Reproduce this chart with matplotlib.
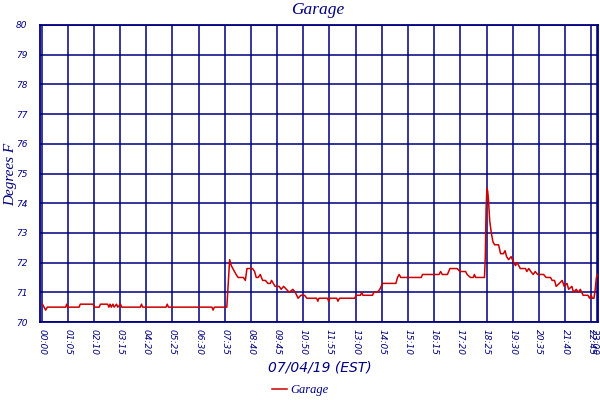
import matplotlib
matplotlib.use("Agg")
import matplotlib.pyplot as plt
import matplotlib.transforms as mtransforms

# minutes since midnight -> degrees F
minutes = [2, 6, 10, 14, 60, 62, 65, 93, 96, 128, 131, 143, 146, 164, 167, 170, 173,
           177, 180, 186, 189, 196, 199, 245, 248, 251, 309, 312, 315, 423, 426, 429,
           460, 463, 467, 471, 475, 483, 488, 501, 506, 510, 524, 529, 533, 538, 543,
           549, 556, 562, 568, 571, 580, 590, 595, 601, 608, 615, 624, 630, 637, 644,
           653, 659, 683, 686, 689, 710, 713, 716, 733, 736, 740, 778, 781, 792, 795,
           798, 822, 825, 834, 840, 847, 880, 884, 888, 892, 943, 946, 987, 991, 995,
           1008, 1014, 1032, 1039, 1053, 1057, 1065, 1072, 1075, 1078, 1100, 1102, 1104,
           1106, 1108, 1110, 1113, 1117, 1121, 1125, 1135, 1140, 1147, 1151, 1155, 1160,
           1166, 1173, 1177, 1181, 1189, 1202, 1205, 1210, 1215, 1221, 1226, 1232, 1247,
           1253, 1264, 1268, 1274, 1278, 1286, 1293, 1298, 1305, 1309, 1317, 1321, 1328,
           1333, 1338, 1345, 1357, 1361, 1365, 1368, 1372, 1375, 1378, 1381]
temps = [70.6, 70.5, 70.4, 70.5, 70.5, 70.6, 70.5, 70.5, 70.6, 70.6, 70.5, 70.5, 70.6,
         70.6, 70.5, 70.6, 70.5, 70.6, 70.5, 70.6, 70.5, 70.6, 70.5, 70.5, 70.6, 70.5,
         70.5, 70.6, 70.5, 70.5, 70.4, 70.5, 70.5, 71.2, 72.1, 71.9, 71.8, 71.6, 71.5,
         71.5, 71.4, 71.8, 71.8, 71.7, 71.5, 71.5, 71.6, 71.4, 71.4, 71.3, 71.3, 71.4,
         71.2, 71.2, 71.1, 71.2, 71.1, 71.0, 71.1, 71.0, 70.8, 70.9, 70.9, 70.8, 70.8,
         70.7, 70.8, 70.8, 70.7, 70.8, 70.8, 70.7, 70.8, 70.8, 70.9, 70.9, 71.0, 70.9,
         70.9, 71.0, 71.0, 71.1, 71.3, 71.3, 71.5, 71.6, 71.5, 71.5, 71.6, 71.6, 71.7,
         71.6, 71.6, 71.8, 71.8, 71.7, 71.7, 71.6, 71.5, 71.5, 71.6, 71.5, 71.5, 72.2,
         73.8, 74.5, 74.4, 74.1, 73.4, 73.0, 72.7, 72.6, 72.6, 72.3, 72.3, 72.4, 72.2,
         72.1, 72.2, 72.0, 71.9, 72.0, 71.8, 71.8, 71.7, 71.8, 71.7, 71.6, 71.7, 71.6,
         71.6, 71.5, 71.5, 71.4, 71.4, 71.2, 71.3, 71.4, 71.2, 71.3, 71.1, 71.2, 71.0,
         71.1, 71.0, 71.1, 70.9, 70.9, 70.8, 70.9, 70.8, 70.8, 71.1, 71.5, 71.6]

tick_minutes = list(range(0, 1366, 65)) + [1380]
tick_labels = [f"{m // 60:02d}:{m % 60:02d}" for m in tick_minutes]
y_ticks = list(range(70, 81))

NAVY = "#000080"
RED = "#cc0000"
SERIF = "Liberation Serif"

fig = plt.figure(figsize=(6, 4), dpi=100)
ax = fig.add_axes([0.0667, 0.195, 0.93, 0.7425])

line, = ax.plot(minutes, temps, color=RED, lw=1.1, label="Garage", zorder=3)

ax.set_xlim(-4, 1382)
ax.set_ylim(70, 80)
ax.set_xticks(tick_minutes)
ax.set_xticklabels(tick_labels, rotation=-90, fontsize=6.5, style="italic", color=NAVY)
ax.set_yticks(y_ticks)
ax.set_yticklabels([str(v) for v in y_ticks], fontsize=6.5, style="italic", color=NAVY)
ax.tick_params(length=0)
ax.tick_params(axis="y", pad=9)
ax.tick_params(axis="x", pad=5)
ax.grid(True, color=NAVY, lw=1.1, zorder=1)
ax.set_axisbelow(True)
for sp in ax.spines.values():
    sp.set_color(NAVY)
    sp.set_linewidth(1.3)

# last label (23:00) sits against the right edge; nudge it in a little
last = ax.get_xticklabels()[-1]
last.set_transform(last.get_transform() + mtransforms.ScaledTranslation(-2 / 72, 0, fig.dpi_scale_trans))

fig.text(0.53, 0.975, "Garage", ha="center", va="center", color=NAVY,
         fontsize=12.5, style="italic", family=SERIF)
fig.text(0.017, 0.565, "Degrees F", ha="center", va="center", rotation=90,
         color=NAVY, fontsize=11, style="italic", family=SERIF)
fig.text(0.533, 0.082, "07/04/19 (EST)", ha="center", va="center", color=NAVY,
         fontsize=10, style="italic")
fig.legend(handles=[line], loc="center", bbox_to_anchor=(0.5, 0.025), frameon=False,
           prop={"family": SERIF, "style": "italic", "size": 9},
           handlelength=1.2, handletextpad=0.3, labelcolor=NAVY)

fig.savefig("out.png", dpi=100)
